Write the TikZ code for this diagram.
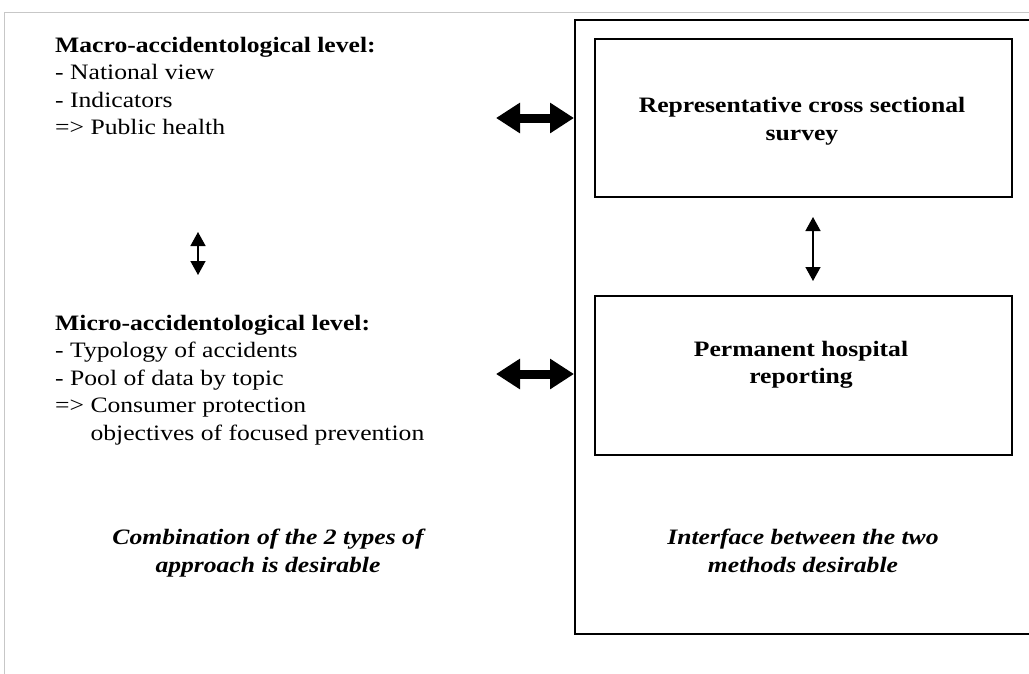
\documentclass[tikz,border=0pt]{standalone}
\usepackage{fontspec}
\setmainfont{Liberation Serif}[FakeStretch=1.165]
\usetikzlibrary{arrows.meta}
\begin{document}
\begin{tikzpicture}[x=1pt,y=-1pt,
  txt/.style={inner sep=0pt, align=left, anchor=north west,
    font=\fontsize{22}{27.5}\selectfont},
  ctxt/.style={inner sep=0pt, align=center, anchor=north,
    font=\fontsize{22}{27.5}\selectfont\bfseries\itshape},
  boxtxt/.style={align=center, inner sep=0pt, font=\fontsize{22}{27.5}\selectfont\bfseries},
  methodbox/.style={draw, line width=1.6pt, minimum width=417pt, minimum height=158pt},
  bigarrow/.style={line width=9pt, {Triangle[width=29pt,length=24pt]}-{Triangle[width=29pt,length=24pt]}},
  smallarrow/.style={line width=1.5pt, {Triangle[width=15pt,length=14pt]}-{Triangle[width=15pt,length=14pt]}}]
\clip (0,0) rectangle (1029,673);
\useasboundingbox (0,0) rectangle (1029,673);
% light grey page frame
\draw[line width=1.5pt, black!22] (4.5,680) -- (4.5,12.5) -- (1040,12.5);
% outer panel on the right
\node[draw, line width=1.6pt, minimum width=470pt, minimum height=614pt, anchor=north west, inner sep=0pt] (panel) at (574,19) {};
% the two survey methods
\node[methodbox] (survey) at (803.5,118) {};
\node[boxtxt] (surveytxt) at (802,121) {Representative cross sectional\\survey};
\node[methodbox, minimum height=159pt] (hospital) at (803.5,375.5) {};
\node[boxtxt] (hospitaltxt) at (801,365) {Permanent hospital\\reporting};
% accidentological levels
\node[txt] (macro) at (55,37) {\textbf{Macro-accidentological level:}\\- National view\\- Indicators\\=> Public health};
\node[txt] (micro) at (55,315) {\textbf{Micro-accidentological level:}\\- Typology of accidents\\- Pool of data by topic\\=> Consumer protection\\\phantom{=> }objectives of focused prevention};
% conclusions
\node[ctxt] (combi) at (268,529) {Combination of the 2 types of\\approach is desirable};
\node[ctxt] (iface) at (803,529) {Interface between the two\\methods desirable};
% connectors
\coordinate (macroarr) at (496,118);
\coordinate (microarr) at (496,374);
\draw[bigarrow] (macroarr) -- (panel.west |- macroarr);
\draw[bigarrow] (microarr) -- (panel.west |- microarr);
\coordinate (lvtop) at (198,232);
\coordinate (lvbot) at (198,275);
\draw[smallarrow] (lvtop) -- (lvbot);
\coordinate (mtop) at (813,217);
\coordinate (mbot) at (813,281);
\draw[smallarrow] (mtop) -- (mbot);
\end{tikzpicture}
\end{document}
